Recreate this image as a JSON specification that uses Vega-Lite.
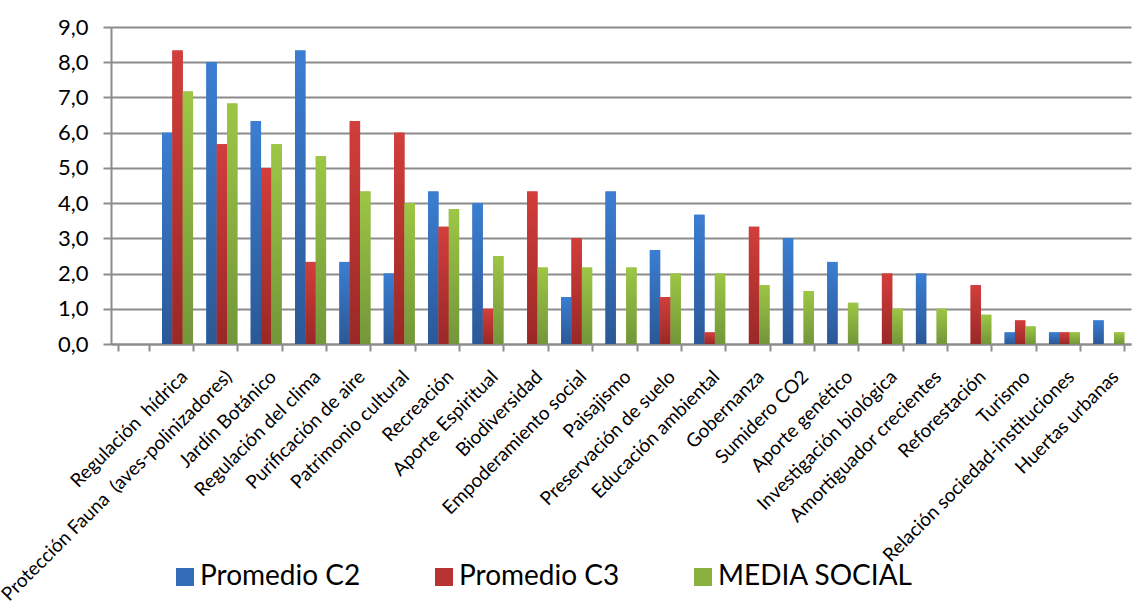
{
  "$schema": "https://vega.github.io/schema/vega-lite/v6.json",
  "autosize": {"type": "none"},
  "padding": {"left": 111, "top": 27, "right": 1, "bottom": 268},
  "width": 1020,
  "height": 317,
  "background": "white",
  "config": {
    "font": "Lato",
    "view": {"stroke": null}
  },
  "data": {
    "values": [
      {"cat": "Regulación  hídrica", "serie": "Promedio C2", "v": 6.0},
      {"cat": "Regulación  hídrica", "serie": "Promedio C3", "v": 8.33},
      {"cat": "Regulación  hídrica", "serie": "MEDIA SOCIAL", "v": 7.17},
      {"cat": "Protección Fauna  (aves-polinizadores)", "serie": "Promedio C2", "v": 8.0},
      {"cat": "Protección Fauna  (aves-polinizadores)", "serie": "Promedio C3", "v": 5.67},
      {"cat": "Protección Fauna  (aves-polinizadores)", "serie": "MEDIA SOCIAL", "v": 6.83},
      {"cat": "Jardín Botánico", "serie": "Promedio C2", "v": 6.33},
      {"cat": "Jardín Botánico", "serie": "Promedio C3", "v": 5.0},
      {"cat": "Jardín Botánico", "serie": "MEDIA SOCIAL", "v": 5.67},
      {"cat": "Regulación del clima", "serie": "Promedio C2", "v": 8.33},
      {"cat": "Regulación del clima", "serie": "Promedio C3", "v": 2.33},
      {"cat": "Regulación del clima", "serie": "MEDIA SOCIAL", "v": 5.33},
      {"cat": "Purificación de aire", "serie": "Promedio C2", "v": 2.33},
      {"cat": "Purificación de aire", "serie": "Promedio C3", "v": 6.33},
      {"cat": "Purificación de aire", "serie": "MEDIA SOCIAL", "v": 4.33},
      {"cat": "Patrimonio cultural", "serie": "Promedio C2", "v": 2.0},
      {"cat": "Patrimonio cultural", "serie": "Promedio C3", "v": 6.0},
      {"cat": "Patrimonio cultural", "serie": "MEDIA SOCIAL", "v": 4.0},
      {"cat": "Recreación", "serie": "Promedio C2", "v": 4.33},
      {"cat": "Recreación", "serie": "Promedio C3", "v": 3.33},
      {"cat": "Recreación", "serie": "MEDIA SOCIAL", "v": 3.83},
      {"cat": "Aporte Espiritual", "serie": "Promedio C2", "v": 4.0},
      {"cat": "Aporte Espiritual", "serie": "Promedio C3", "v": 1.0},
      {"cat": "Aporte Espiritual", "serie": "MEDIA SOCIAL", "v": 2.5},
      {"cat": "Biodiversidad", "serie": "Promedio C2", "v": 0},
      {"cat": "Biodiversidad", "serie": "Promedio C3", "v": 4.33},
      {"cat": "Biodiversidad", "serie": "MEDIA SOCIAL", "v": 2.17},
      {"cat": "Empoderamiento social", "serie": "Promedio C2", "v": 1.33},
      {"cat": "Empoderamiento social", "serie": "Promedio C3", "v": 3.0},
      {"cat": "Empoderamiento social", "serie": "MEDIA SOCIAL", "v": 2.17},
      {"cat": "Paisajismo", "serie": "Promedio C2", "v": 4.33},
      {"cat": "Paisajismo", "serie": "Promedio C3", "v": 0},
      {"cat": "Paisajismo", "serie": "MEDIA SOCIAL", "v": 2.17},
      {"cat": "Preservación de suelo", "serie": "Promedio C2", "v": 2.67},
      {"cat": "Preservación de suelo", "serie": "Promedio C3", "v": 1.33},
      {"cat": "Preservación de suelo", "serie": "MEDIA SOCIAL", "v": 2.0},
      {"cat": "Educación ambiental", "serie": "Promedio C2", "v": 3.67},
      {"cat": "Educación ambiental", "serie": "Promedio C3", "v": 0.33},
      {"cat": "Educación ambiental", "serie": "MEDIA SOCIAL", "v": 2.0},
      {"cat": "Gobernanza", "serie": "Promedio C2", "v": 0},
      {"cat": "Gobernanza", "serie": "Promedio C3", "v": 3.33},
      {"cat": "Gobernanza", "serie": "MEDIA SOCIAL", "v": 1.67},
      {"cat": "Sumidero CO2", "serie": "Promedio C2", "v": 3.0},
      {"cat": "Sumidero CO2", "serie": "Promedio C3", "v": 0},
      {"cat": "Sumidero CO2", "serie": "MEDIA SOCIAL", "v": 1.5},
      {"cat": "Aporte genético", "serie": "Promedio C2", "v": 2.33},
      {"cat": "Aporte genético", "serie": "Promedio C3", "v": 0},
      {"cat": "Aporte genético", "serie": "MEDIA SOCIAL", "v": 1.17},
      {"cat": "Investigación biológica", "serie": "Promedio C2", "v": 0},
      {"cat": "Investigación biológica", "serie": "Promedio C3", "v": 2.0},
      {"cat": "Investigación biológica", "serie": "MEDIA SOCIAL", "v": 1.0},
      {"cat": "Amortiguador crecientes", "serie": "Promedio C2", "v": 2.0},
      {"cat": "Amortiguador crecientes", "serie": "Promedio C3", "v": 0},
      {"cat": "Amortiguador crecientes", "serie": "MEDIA SOCIAL", "v": 1.0},
      {"cat": "Reforestación", "serie": "Promedio C2", "v": 0},
      {"cat": "Reforestación", "serie": "Promedio C3", "v": 1.67},
      {"cat": "Reforestación", "serie": "MEDIA SOCIAL", "v": 0.83},
      {"cat": "Turismo", "serie": "Promedio C2", "v": 0.33},
      {"cat": "Turismo", "serie": "Promedio C3", "v": 0.67},
      {"cat": "Turismo", "serie": "MEDIA SOCIAL", "v": 0.5},
      {"cat": "Relación sociedad-instituciones", "serie": "Promedio C2", "v": 0.33},
      {"cat": "Relación sociedad-instituciones", "serie": "Promedio C3", "v": 0.33},
      {"cat": "Relación sociedad-instituciones", "serie": "MEDIA SOCIAL", "v": 0.33},
      {"cat": "Huertas urbanas", "serie": "Promedio C2", "v": 0.67},
      {"cat": "Huertas urbanas", "serie": "Promedio C3", "v": 0},
      {"cat": "Huertas urbanas", "serie": "MEDIA SOCIAL", "v": 0.33}
    ]
  },
  "encoding": {
    "x": {
      "field": "cat",
      "type": "nominal",
      "sort": null,
      "scale": {
        "domain": [" ", "Regulación  hídrica", "Protección Fauna  (aves-polinizadores)", "Jardín Botánico", "Regulación del clima", "Purificación de aire", "Patrimonio cultural", "Recreación", "Aporte Espiritual", "Biodiversidad", "Empoderamiento social", "Paisajismo", "Preservación de suelo", "Educación ambiental", "Gobernanza", "Sumidero CO2", "Aporte genético", "Investigación biológica", "Amortiguador crecientes", "Reforestación", "Turismo", "Relación sociedad-instituciones", "Huertas urbanas"],
        "paddingInner": 0.3,
        "paddingOuter": 0.15
      },
      "axis": {
        "title": null,
        "labelAngle": -45,
        "labelFontSize": 19,
        "labelFont": "Lato",
        "labelColor": "#000000",
        "labelLimit": 0,
        "labelPadding": 16,
        "labelExpr": "replace(datum.label, '  ', '\u00a0\u00a0')",
        "labelOverlap": false,
        "tickBand": "extent",
        "tickOffset": -6.65,
        "tickColor": "#8c8c8c",
        "tickWidth": 2,
        "tickSize": 7,
        "domainColor": "#8c8c8c",
        "domainWidth": 2,
        "grid": false
      }
    },
    "xOffset": {
      "field": "serie",
      "type": "nominal",
      "sort": ["Promedio C2", "Promedio C3", "MEDIA SOCIAL"],
      "scale": {"domain": ["Promedio C2", "Promedio C3", "MEDIA SOCIAL"]}
    },
    "y": {
      "field": "v",
      "type": "quantitative",
      "scale": {"domain": [0, 9], "nice": false},
      "axis": {
        "title": null,
        "values": [0, 1, 2, 3, 4, 5, 6, 7, 8, 9],
        "format": ".1f",
        "labelExpr": "replace(datum.label, '.', ',')",
        "labelFontSize": 22,
        "labelFont": "Lato",
        "labelColor": "#000000",
        "labelPadding": 15,
        "tickColor": "#8c8c8c",
        "tickWidth": 2,
        "tickSize": 8,
        "domainColor": "#8c8c8c",
        "domainWidth": 2,
        "grid": true,
        "gridColor": "#8c8c8c",
        "gridWidth": 2
      }
    }
  },
  "layer": [
    {
      "mark": {"type": "bar"},
      "encoding": {
        "color": {
          "field": "serie",
          "type": "nominal",
          "sort": ["Promedio C2", "Promedio C3", "MEDIA SOCIAL"],
          "scale": {
            "domain": ["Promedio C2", "Promedio C3", "MEDIA SOCIAL"],
            "range": ["#336cb8", "#b83432", "#8ab040"]
          },
          "legend": {
            "title": null,
            "orient": "none",
            "direction": "horizontal",
            "legendX": 60,
            "legendY": 536,
            "symbolType": "square",
            "symbolSize": 324,
            "symbolStrokeWidth": 0,
            "symbolOpacity": 1,
            "labelFontSize": 28,
            "labelFont": "Lato",
            "labelColor": "#000000",
            "labelLimit": 0,
            "labelOffset": 1,
            "columnPadding": 69
          }
        }
      }
    },
    {
      "transform": [{"filter": "datum.serie == 'Promedio C2'"}],
      "mark": {"type": "bar", "color": {"gradient": "linear", "x1": 0, "y1": 0, "x2": 0, "y2": 1, "stops": [{"offset": 0, "color": "#3b7ed2"}, {"offset": 1, "color": "#2b5896"}]}}
    },
    {
      "transform": [{"filter": "datum.serie == 'Promedio C3'"}],
      "mark": {"type": "bar", "color": {"gradient": "linear", "x1": 0, "y1": 0, "x2": 0, "y2": 1, "stops": [{"offset": 0, "color": "#d23e3b"}, {"offset": 1, "color": "#9a2826"}]}}
    },
    {
      "transform": [{"filter": "datum.serie == 'MEDIA SOCIAL'"}],
      "mark": {"type": "bar", "color": {"gradient": "linear", "x1": 0, "y1": 0, "x2": 0, "y2": 1, "stops": [{"offset": 0, "color": "#9dc645"}, {"offset": 1, "color": "#72963a"}]}}
    }
  ]
}
